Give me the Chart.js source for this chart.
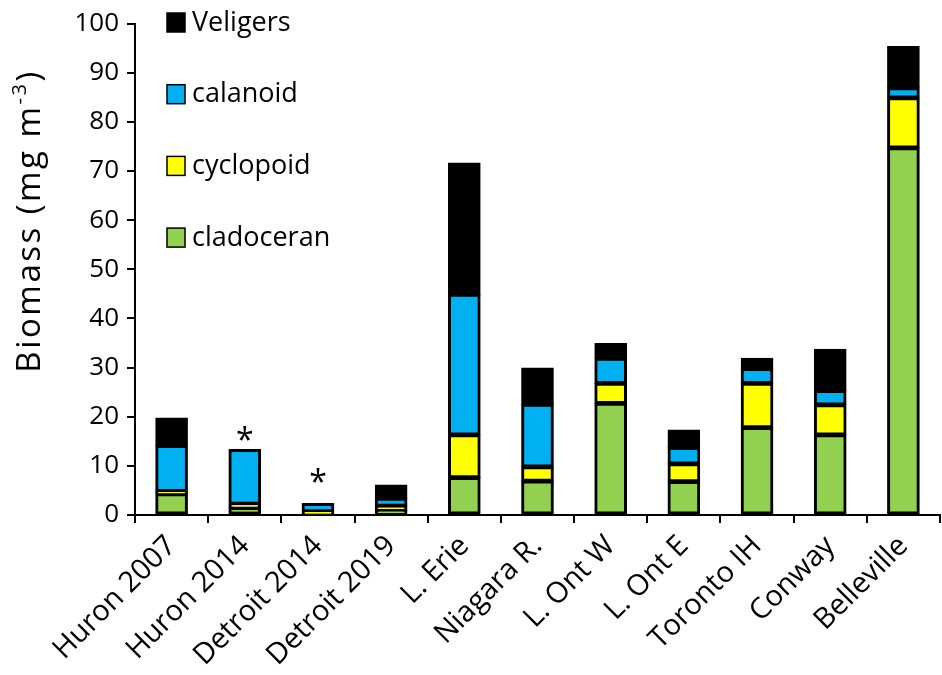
<!DOCTYPE html>
<html>
<head>
<meta charset="utf-8">
<script src="https://cdn.jsdelivr.net/npm/chart.js@4.4.1/dist/chart.umd.min.js"></script>
<style>
  html, body { margin: 0; padding: 0; background: #fff; }
  #wrap { width: 942px; height: 675px; }
</style>
</head>
<body>
<div id="wrap"><canvas id="biomassChart"></canvas></div>
<script>
// Data (mg m-3)
const sites = ['Huron 2007', 'Huron 2014', 'Detroit 2014', 'Detroit 2019', 'L. Erie', 'Niagara R.',
               'L. Ont W', 'L. Ont E', 'Toronto IH', 'Conway', 'Belleville'];
const cladoceran = [4.3, 1.5, 0.3, 0.9, 7.6, 6.9, 22.7, 6.8, 17.8, 16.3, 74.7];
const cyclopoid  = [0.5, 0.7, 0.4, 0.9, 8.7, 2.9, 4.1, 3.6, 9.0, 6.1, 10.2];
const calanoid   = [9.3, 11.1, 1.6, 1.6, 28.6, 12.7, 5.1, 3.3, 3.0, 2.9, 2.0];
const veligers   = [5.6, 0, 0, 2.7, 26.7, 7.4, 3.0, 3.6, 2.1, 8.4, 8.4];
// asterisk marks (y position in data units), null = none
const starMarks  = [null, 16.3, 7.7, null, null, null, null, null, null, null, null];
const yTicks = [0, 10, 20, 30, 40, 50, 60, 70, 80, 90, 100];

const FONT = '"Open Sans", Lato, sans-serif';
Chart.defaults.font.family = FONT;
Chart.defaults.color = '#000';

function seg(label, data, color) {
    return {
        label: label,
        data: data,
        backgroundColor: color,
        borderColor: '#000',
        borderWidth: 3,
        borderSkipped: false,
        inflateAmount: 0.6,
        barPercentage: 0.43,
        categoryPercentage: 1.0
    };
}

// custom legend, drawn top-left inside the plot
const legendPlugin = {
    id: 'sideLegend',
    afterDraw(chart) {
        const ctx = chart.ctx;
        const items = chart.data.datasets.slice().reverse();
        ctx.save();
        ctx.font = '27px ' + FONT;
        ctx.textBaseline = 'middle';
        items.forEach((ds, i) => {
            const cy = 22 + i * 71.7;
            ctx.fillStyle = ds.backgroundColor;
            ctx.fillRect(167, cy - 9, 18, 19);
            ctx.strokeStyle = '#000';
            ctx.lineWidth = 1.5;
            ctx.strokeRect(167, cy - 9, 18, 19);
            ctx.fillStyle = '#000';
            ctx.fillText(ds.label, 192, cy + 1);
        });
        ctx.restore();
    }
};

// y axis title with superscript
const titlePlugin = {
    id: 'yTitle',
    afterDraw(chart) {
        const ctx = chart.ctx;
        const main = 'Biomass (mg m';
        const sup = '-3';
        const tail = ')';
        ctx.save();
        ctx.translate(31, 221);
        ctx.rotate(-Math.PI / 2);
        ctx.fillStyle = '#000';
        ctx.textBaseline = 'middle';
        ctx.letterSpacing = '2.5px';
        ctx.font = '33px ' + FONT;
        const w1 = ctx.measureText(main).width;
        const w3 = ctx.measureText(tail).width;
        ctx.font = '20px ' + FONT;
        const w2 = ctx.measureText(sup).width;
        let x = -(w1 + w2 + w3) / 2;
        ctx.font = '33px ' + FONT;
        ctx.fillText(main, x, 0);
        x += w1;
        ctx.font = '20px ' + FONT;
        ctx.fillText(sup, x, -11);
        x += w2;
        ctx.font = '33px ' + FONT;
        ctx.fillText(tail, x, 0);
        ctx.restore();
    }
};

// asterisks over selected bars
const starPlugin = {
    id: 'stars',
    afterDatasetsDraw(chart) {
        const ctx = chart.ctx;
        const xs = chart.scales.x, ys = chart.scales.y;
        ctx.save();
        ctx.font = '32px ' + FONT;
        ctx.fillStyle = '#000';
        ctx.textAlign = 'center';
        ctx.textBaseline = 'middle';
        starMarks.forEach((v, i) => {
            if (v === null) return;
            ctx.fillText('*', xs.getPixelForValue(i), ys.getPixelForValue(v) + 7);
        });
        ctx.restore();
    }
};

new Chart(document.getElementById('biomassChart'), {
    type: 'bar',
    data: {
        labels: sites,
        datasets: [
            seg('cladoceran', cladoceran, '#92D050'),
            seg('cyclopoid', cyclopoid, '#FFFF00'),
            seg('calanoid', calanoid, '#00B0F0'),
            seg('Veligers', veligers, '#000000')
        ]
    },
    options: {
        responsive: true,
        maintainAspectRatio: false,
        animation: false,
        layout: { padding: { top: 23, right: 2, left: 0, bottom: 0 } },
        scales: {
            x: {
                stacked: true,
                afterFit(scale) { scale.height = 160; },
                grid: { display: true, drawOnChartArea: false, offset: true, tickLength: 8, color: '#000', lineWidth: 2 },
                border: { color: '#000', width: 2 },
                ticks: { font: { size: 29 }, color: '#000', minRotation: 45, maxRotation: 45, padding: 6 }
            },
            y: {
                stacked: true,
                min: 0,
                max: 100,
                afterFit(scale) { scale.width = 135; },
                afterBuildTicks(scale) { scale.ticks = yTicks.map(v => ({ value: v })); },
                grid: { display: true, drawOnChartArea: false, tickLength: 8, color: '#000', lineWidth: 2 },
                border: { color: '#000', width: 2 },
                ticks: { font: { size: 26 }, color: '#000', padding: 8 }
            }
        },
        plugins: {
            legend: { display: false },
            tooltip: { enabled: false }
        }
    },
    plugins: [legendPlugin, titlePlugin, starPlugin]
});
</script>
</body>
</html>
